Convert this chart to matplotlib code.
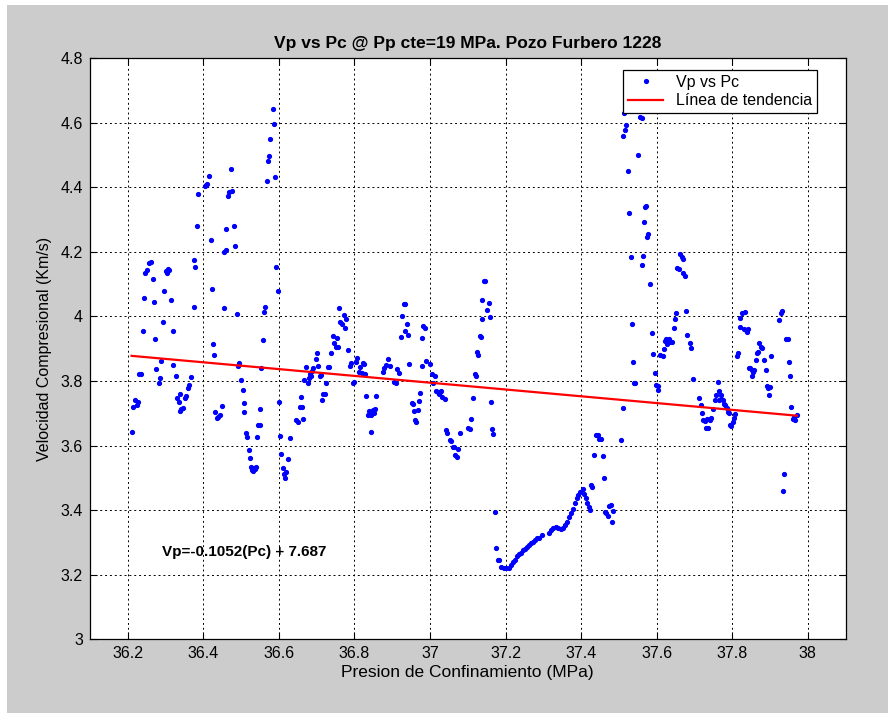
import numpy as np
import matplotlib
matplotlib.use("Agg")
import matplotlib.pyplot as plt
from matplotlib.patches import Rectangle

plt.rcParams['font.family'] = ['Liberation Sans', 'DejaVu Sans']

# Presion de confinamiento (MPa) y velocidad compresional (Km/s)
pc = [
    36.210, 36.215, 36.218, 36.224, 36.227, 36.229, 36.235, 36.240, 36.244, 36.246,
    36.250, 36.255, 36.261, 36.266, 36.270, 36.273, 36.275, 36.282, 36.285, 36.289,
    36.292, 36.295, 36.301, 36.304, 36.307, 36.310, 36.315, 36.319, 36.321, 36.328,
    36.331, 36.335, 36.337, 36.339, 36.341, 36.345, 36.351, 36.354, 36.360, 36.363,
    36.367, 36.374, 36.376, 36.379, 36.382, 36.385, 36.405, 36.408, 36.411, 36.414,
    36.419, 36.422, 36.425, 36.427, 36.431, 36.435, 36.439, 36.443, 36.450,
    36.454, 36.456, 36.460, 36.461, 36.465, 36.469, 36.473, 36.475, 36.480, 36.483,
    36.489, 36.493, 36.495, 36.500, 36.504, 36.507, 36.509, 36.513, 36.516, 36.520,
    36.523, 36.527, 36.529, 36.531, 36.534, 36.537, 36.540, 36.542, 36.546, 36.549,
    36.551, 36.554, 36.558, 36.561, 36.564, 36.568, 36.571, 36.575, 36.577, 36.584,
    36.586, 36.590, 36.593, 36.597, 36.601, 36.604, 36.606, 36.610, 36.613, 36.616,
    36.620, 36.623, 36.629,
    36.645, 36.651, 36.655, 36.658, 36.661, 36.664, 36.667, 36.671, 36.678, 36.680,
    36.683, 36.686, 36.689, 36.690, 36.698, 36.700, 36.704, 36.708, 36.711, 36.714,
    36.717, 36.722, 36.726, 36.729, 36.732, 36.737,
    36.742, 36.747, 36.751, 36.753, 36.757, 36.760, 36.762, 36.767, 36.773, 36.775,
    36.779, 36.782, 36.788, 36.791, 36.797, 36.800, 36.804, 36.808, 36.813, 36.815,
    36.820, 36.822, 36.826, 36.829, 36.830, 36.837, 36.839, 36.844, 36.845, 36.848,
    36.851, 36.854, 36.857, 36.876, 36.879, 36.883, 36.890, 36.894, 36.905, 36.910,
    36.912, 36.917, 36.922, 36.926, 36.930, 36.933, 36.934, 36.938, 36.941, 36.945,
    36.952, 36.956, 36.957, 36.961, 36.964, 36.967, 36.971, 36.974, 36.979, 36.980,
    36.982, 36.986, 36.990, 37.000, 37.005, 37.009,
    37.013, 37.016, 37.020, 37.024, 37.027, 37.030, 37.033, 37.041, 37.043, 37.046,
    37.052, 37.056, 37.060, 37.064, 37.067, 37.071, 37.074, 37.080, 37.100, 37.106,
    37.108, 37.113, 37.118, 37.121, 37.124, 37.126, 37.133, 37.136, 37.137, 37.139,
    37.143, 37.146, 37.152, 37.155, 37.158, 37.162, 37.165, 37.168, 37.172, 37.175,
    37.179, 37.183,
    37.188, 37.195, 37.202, 37.209, 37.214, 37.219, 37.225, 37.230, 37.235, 37.241,
    37.246, 37.251, 37.256, 37.262, 37.267, 37.272, 37.277, 37.283, 37.289, 37.296,
    37.314, 37.320, 37.326, 37.333, 37.339, 37.346, 37.353, 37.358, 37.364, 37.368,
    37.374, 37.379, 37.384, 37.389, 37.393, 37.398, 37.404, 37.408, 37.413, 37.417,
    37.420, 37.423, 37.427, 37.430, 37.435, 37.439, 37.444, 37.448, 37.452, 37.458,
    37.460, 37.464, 37.467, 37.471, 37.474, 37.478, 37.481, 37.485,
    37.507, 37.510, 37.511, 37.514, 37.516, 37.520, 37.525, 37.528, 37.531, 37.534,
    37.538, 37.540, 37.543, 37.551, 37.555, 37.560, 37.562, 37.564, 37.567, 37.569,
    37.573, 37.575, 37.577, 37.583, 37.587, 37.590, 37.597, 37.599, 37.603, 37.604,
    37.609, 37.617, 37.620, 37.622, 37.625, 37.628, 37.632, 37.636, 37.640, 37.646,
    37.649, 37.652, 37.655, 37.659, 37.661, 37.666, 37.669, 37.671, 37.675, 37.678,
    37.681, 37.688, 37.691, 37.695,
    37.713, 37.718, 37.719, 37.724, 37.727, 37.731, 37.733, 37.736, 37.740, 37.743,
    37.748, 37.754, 37.757, 37.763, 37.764, 37.766, 37.770, 37.771, 37.775, 37.778,
    37.781, 37.785, 37.789, 37.792, 37.794, 37.798, 37.802, 37.805, 37.808, 37.812,
    37.815, 37.820, 37.822, 37.827, 37.833, 37.830, 37.836, 37.838, 37.843, 37.844,
    37.847, 37.852, 37.853, 37.855, 37.858, 37.862, 37.865, 37.869, 37.871, 37.875,
    37.880, 37.885, 37.889, 37.892, 37.896, 37.898, 37.901, 37.904, 37.924, 37.928,
    37.931, 37.934, 37.938, 37.942, 37.948, 37.950, 37.954, 37.957, 37.962, 37.964,
    37.966, 37.971,
]
vp = [
    3.643, 3.718, 3.741, 3.725, 3.736, 3.821, 3.821, 3.955, 4.056, 4.135,
    4.143, 4.166, 4.168, 4.117, 4.046, 3.929, 3.838, 3.795, 3.808, 3.863,
    3.984, 4.079, 4.140, 4.135, 4.146, 4.143, 4.050, 3.955, 3.848, 3.815,
    3.746, 3.736, 3.760, 3.708, 3.712, 3.715, 3.746, 3.753, 3.777, 3.786,
    3.811, 4.030, 4.176, 4.154, 4.280, 4.380, 4.403, 4.408, 4.410, 4.434,
    4.236, 4.085, 3.914, 3.880, 3.705, 3.684, 3.689, 3.694, 3.722,
    4.027, 4.200, 4.205, 4.269, 4.372, 4.386, 4.455, 4.388, 4.280, 4.218,
    4.007, 3.847, 3.857, 3.803, 3.772, 3.731, 3.705, 3.638, 3.625, 3.586,
    3.560, 3.535, 3.525, 3.522, 3.530, 3.528, 3.533, 3.625, 3.664, 3.664,
    3.713, 3.839, 3.927, 4.014, 4.028, 4.420, 4.481, 4.497, 4.549, 4.641,
    4.597, 4.432, 4.152, 4.079, 3.736, 3.629, 3.574, 3.529, 3.512, 3.500,
    3.519, 3.557, 3.622,
    3.679, 3.674, 3.720, 3.751, 3.720, 3.681, 3.803, 3.844, 3.794, 3.808,
    3.823, 3.815, 3.830, 3.840, 3.867, 3.886, 3.847, 3.815, 3.818, 3.741,
    3.761, 3.761, 3.794, 3.844, 3.844, 3.887,
    3.939, 3.916, 3.904, 3.934, 3.904, 4.025, 3.984, 3.976, 4.004, 3.963,
    3.993, 3.896, 3.846, 3.857, 3.795, 3.798, 3.860, 3.870, 3.828, 3.844,
    3.826, 3.857, 3.852, 3.823, 3.753, 3.694, 3.707, 3.643, 3.694, 3.710,
    3.700, 3.712, 3.753, 3.829, 3.839, 3.850, 3.867, 3.847, 3.798, 3.795,
    3.836, 3.826, 3.937, 4.001, 4.038, 4.038, 3.955, 3.975, 3.942, 3.851,
    3.733, 3.729, 3.708, 3.679, 3.673, 3.710, 3.739, 3.764, 3.847, 3.934,
    3.971, 3.965, 3.863, 3.852, 3.823, 3.795,
    3.815, 3.770, 3.765, 3.759, 3.765, 3.770, 3.750, 3.743, 3.648, 3.638,
    3.617, 3.615, 3.596, 3.594, 3.570, 3.565, 3.588, 3.640, 3.655, 3.652,
    3.681, 3.746, 3.820, 3.815, 3.890, 3.880, 3.940, 3.935, 3.991, 4.050,
    4.109, 4.109, 4.020, 4.040, 3.997, 3.736, 3.651, 3.636, 3.394, 3.282,
    3.245, 3.247,
    3.225, 3.222, 3.222, 3.222, 3.230, 3.240, 3.247, 3.258, 3.264, 3.268,
    3.275, 3.280, 3.286, 3.292, 3.297, 3.302, 3.309, 3.313, 3.313, 3.323,
    3.330, 3.338, 3.344, 3.349, 3.344, 3.341, 3.344, 3.354, 3.364, 3.380,
    3.392, 3.405, 3.421, 3.436, 3.447, 3.457, 3.464, 3.449, 3.436, 3.421,
    3.411, 3.400, 3.478, 3.473, 3.571, 3.632, 3.632, 3.619, 3.619, 3.568,
    3.501, 3.395, 3.390, 3.382, 3.413, 3.416, 3.364, 3.398,
    3.617, 3.715, 4.558, 4.630, 4.577, 4.594, 4.449, 4.321, 4.185, 3.975,
    3.860, 3.795, 3.793, 4.501, 4.618, 4.613, 4.159, 4.188, 4.291, 4.339,
    4.343, 4.247, 4.255, 4.100, 3.947, 3.883, 3.826, 3.787, 3.772, 3.785,
    3.880, 3.878, 3.898, 3.925, 3.930, 3.915, 3.930, 3.920, 3.920, 3.965,
    3.991, 4.011, 4.149, 4.148, 4.192, 4.185, 4.179, 4.133, 4.126, 4.017,
    3.942, 3.919, 3.903, 3.806,
    3.746, 3.727, 3.702, 3.680, 3.675, 3.653, 3.682, 3.655, 3.678, 3.685,
    3.712, 3.741, 3.756, 3.797, 3.770, 3.742, 3.745, 3.755, 3.740, 3.730,
    3.725, 3.715, 3.705, 3.700, 3.664, 3.661, 3.673, 3.686, 3.699, 3.878,
    3.885, 3.966, 3.994, 4.011, 4.014, 3.960, 3.957, 3.953, 3.960, 3.839,
    3.839, 3.834, 3.815, 3.829, 3.834, 3.865, 3.886, 3.891, 3.916, 3.906,
    3.901, 3.864, 3.834, 3.785, 3.777, 3.756, 3.782, 3.877, 3.989, 4.009,
    4.016, 3.459, 3.512, 3.929, 3.929, 3.860, 3.815, 3.720, 3.681, 3.687,
    3.679, 3.695,
]

# Linea de tendencia: Vp = slope*Pc + intercept
slope = -0.1052
intercept = 7.687

xticks = np.arange(36.2, 38.01, 0.2)
xticklabels = ['36.2', '36.4', '36.6', '36.8', '37', '37.2', '37.4', '37.6', '37.8', '38']
yticks = np.arange(3.0, 4.81, 0.2)
yticklabels = ['3', '3.2', '3.4', '3.6', '3.8', '4', '4.2', '4.4', '4.6', '4.8']

fig = plt.figure(figsize=(8.88, 7.13), dpi=100)
fig.patch.set_facecolor('white')
fig.add_artist(Rectangle((7 / 888, 0), 1, 1 - 5 / 713, transform=fig.transFigure,
                         facecolor='#cccccc', edgecolor='none', zorder=-10))

ax = fig.add_axes([90 / 888, 1 - 639.3 / 713, 755.5 / 888, 581.3 / 713])
ax.set_facecolor('white')

ax.plot(pc, vp, '.', color='#0000ff', markersize=5.5, linestyle='none', label='Vp vs Pc')
xs = np.array([min(pc), max(pc)])
ax.plot(xs, slope * xs + intercept, color='#ff0000', linewidth=1.6, label='Línea de tendencia')

ax.set_xlim(36.1, 38.1)
ax.set_ylim(3.0, 4.8)
ax.set_xticks(xticks)
ax.set_xticklabels(xticklabels)
ax.set_yticks(yticks)
ax.set_yticklabels(yticklabels)
ax.tick_params(direction='in', top=True, right=True, length=5, labelsize=11.5, pad=5)
ax.grid(True, color='black', linestyle=(0, (2, 3)), linewidth=0.7)
for s in ax.spines.values():
    s.set_linewidth(0.9)

ax.set_title('Vp vs Pc @ Pp cte=19 MPa. Pozo Furbero 1228', fontsize=12.5,
             fontweight='bold', pad=7)
ax.set_xlabel('Presion de Confinamiento (MPa)', fontsize=12.5, labelpad=3)
ax.set_ylabel('Velocidad Compresional (Km/s)', fontsize=11.5, labelpad=6)

ax.text(36.291, 3.27, 'Vp=-0.1052(Pc) + 7.687', fontsize=11, fontweight='bold',
        va='center', ha='left')

leg = ax.legend(loc='upper right', bbox_to_anchor=(0.962, 0.979), fancybox=False,
                edgecolor='black', framealpha=1, borderaxespad=0, fontsize=11.5,
                handlelength=2.2, borderpad=0.3, labelspacing=0.2)
leg.get_frame().set_linewidth(0.9)

fig.savefig('out.png', dpi=100, facecolor=fig.get_facecolor())
